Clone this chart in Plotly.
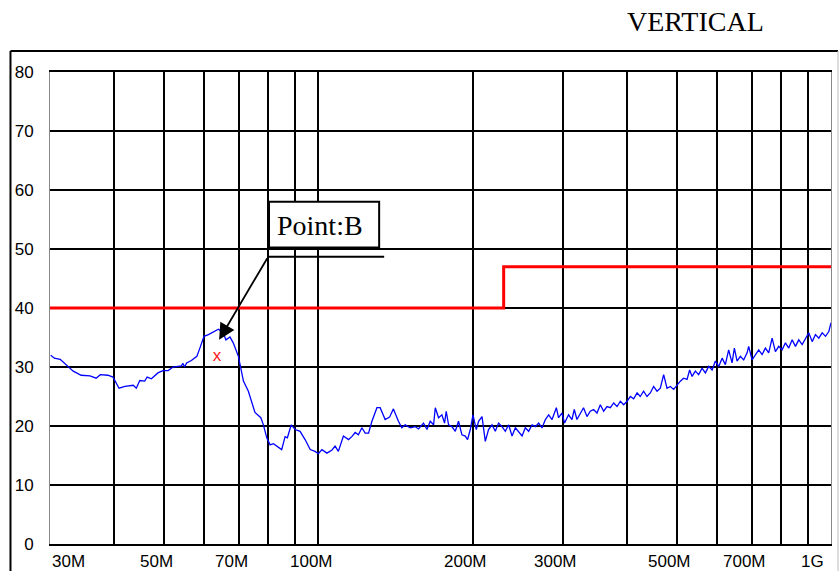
import math
import plotly.graph_objects as go

# ---------------- data ----------------
freq_mhz = [
    30.1, 30.6, 31.4, 32.5, 33.3, 34.5, 35.9, 36.9, 37.6, 38.9, 39.8, 40.9, 42.0, 43.6, 44.2,
    44.9, 45.9, 46.4, 47.3, 48.7, 49.8, 51.0, 52.1, 54.1, 54.5, 54.9, 55.4, 56.6, 58.0, 58.8,
    59.9, 61.1, 62.5, 63.9, 65.3, 66.1, 67.3, 68.3, 69.9, 71.5, 73.1, 75.3, 77.3, 78.2, 79.4,
    80.6, 81.8, 83.1, 84.9, 86.2, 87.1, 88.6, 90.2, 92.2, 94.3, 96.5, 98.6, 100.1, 101.7, 104.0,
    106.3, 107.9, 109.5, 112.0, 114.6, 116.3, 118.1, 119.8, 121.7, 123.5, 125.4, 127.3, 130.2,
    132.1, 135.1, 137.8, 140.2, 143.4, 145.6, 147.8, 151.2, 154.6, 156.9, 160.5, 163.0, 165.4,
    167.9, 169.2, 171.7, 174.3, 176.4, 177.7, 179.6, 182.3, 185.1, 187.8, 190.7, 193.6, 195.6,
    198.0, 200.4, 203.4, 205.5, 208.7, 211.8, 214.9, 218.3, 221.5, 224.8, 228.3, 231.7, 235.2,
    238.8, 242.4, 246.0, 249.8, 253.5, 257.3, 261.3, 265.2, 269.1, 273.3, 277.4, 281.5, 285.8,
    291.4, 294.3, 298.8, 302.3, 307.8, 312.5, 315.8, 319.6, 324.4, 329.2, 334.3, 339.3, 344.4,
    349.7, 355.0, 360.3, 365.8, 371.3, 376.9, 382.7, 388.4, 394.2, 400.3, 406.3, 412.3, 418.7,
    424.7, 431.1, 437.7, 444.3, 450.9, 457.9, 464.7, 471.7, 478.9, 486.1, 493.4, 500.9, 508.4,
    516.0, 524.0, 530.1, 535.9, 543.9, 552.0, 560.5, 568.9, 577.4, 586.3, 595.1, 604.0, 613.3,
    622.3, 631.6, 641.3, 648.0, 655.9, 665.7, 675.7, 686.1, 691.0, 701.6, 712.1, 722.8, 733.9,
    744.9, 756.0, 767.7, 779.1, 790.8, 803.0, 815.0, 827.2, 839.9, 852.5, 865.2, 878.6, 891.7,
    905.0, 919.0, 932.7, 946.7, 961.3, 975.7, 990.2, 1000.0,
]
level_dbuv = [
    32.0, 31.5, 31.3, 30.2, 29.3, 28.6, 28.5, 28.1, 28.7, 28.6, 28.3, 26.4, 26.7, 26.9, 26.4,
    27.7, 27.6, 28.3, 28.0, 29.0, 29.4, 29.4, 30.0, 30.2, 30.6, 30.0, 30.7, 31.1, 31.8, 33.2,
    35.2, 35.5, 36.0, 36.4, 35.8, 34.6, 35.1, 34.1, 31.8, 27.6, 25.9, 22.3, 21.4, 20.2, 18.0,
    16.8, 17.0, 16.6, 16.0, 18.2, 18.0, 20.2, 19.4, 19.1, 17.7, 16.0, 15.7, 15.3, 16.0, 15.4,
    15.9, 16.6, 15.7, 18.3, 17.7, 18.2, 18.9, 18.5, 19.7, 18.8, 18.8, 20.8, 23.1,
    23.1, 21.1, 21.5, 22.9, 20.8, 19.7, 20.2, 19.7, 19.9, 19.5, 20.5, 19.4, 20.8,
    20.2, 23.1, 21.4, 21.9, 20.5, 22.5, 20.2, 19.9, 19.1, 20.8, 18.5, 18.3, 17.7,
    19.4, 21.9, 19.4, 20.8, 21.6, 17.4, 19.4, 20.2, 19.1, 20.5, 19.9, 19.1, 20.2,
    18.3, 19.7, 19.1, 18.3, 19.7, 19.1, 20.2, 19.9, 20.5, 19.7, 21.1, 21.9, 21.1,
    23.1, 21.4, 22.2, 20.5, 21.9, 21.1, 22.8, 21.1, 22.2, 23.1, 21.6, 22.5, 22.8,
    22.2, 23.6, 22.5, 23.3, 23.1, 23.9, 23.3, 24.2, 23.6, 24.2, 25.0, 24.6, 25.6,
    25.0, 25.9, 25.0, 25.6, 26.7, 25.9, 26.4, 28.7, 26.4, 26.7, 26.2, 27.0, 27.6,
    28.1, 27.9, 29.5, 28.4, 29.3, 28.7, 29.8, 29.0, 30.1, 29.5, 31.0, 30.1, 31.5,
    30.4, 32.9, 30.7, 33.2, 31.0, 31.8, 31.2, 32.4, 33.5, 31.2, 32.1, 32.9, 32.1,
    33.2, 32.4, 34.9, 32.6, 33.5, 32.9, 34.1, 33.2, 34.6, 33.5, 34.6, 33.8, 34.9,
    35.8, 34.3, 35.5, 34.9, 35.8, 35.2, 36.0, 37.5,
]

limit_freq_mhz = [30, 230, 230, 1000]
limit_dbuv = [40, 40, 47, 47]

marker_freq_mhz = [63.5]
marker_dbuv = [31.8]
marker_text = ["x"]

x_tick_vals = [30, 40, 50, 60, 70, 80, 90, 100, 200, 300, 400, 500, 600, 700, 800, 900, 1000]
x_label_vals = [30, 50, 70, 100, 200, 300, 500, 700, 1000]
x_label_text = ["30M", "50M", "70M", "100M", "200M", "300M", "500M", "700M", "1G"]
y_tick_vals = [0, 10, 20, 30, 40, 50, 60, 70, 80]

title_text = "VERTICAL"
point_label = "Point:B"

# ---------------- style ----------------
LABEL_FONT = dict(family="Liberation Sans Narrow, Arial Narrow, Liberation Sans, Arial", size=17, color="black")
SERIF = dict(family="Liberation Serif, Times New Roman, serif", size=28, color="black")
label_xshift = {"30M": 0, "1G": -5}
label_anchor = {"30M": "left", "1G": "right"}

fig = go.Figure()

fig.add_trace(go.Scatter(
    x=limit_freq_mhz, y=limit_dbuv, mode="lines",
    line=dict(color="#ff0000", width=3), hoverinfo="skip", showlegend=False,
))
fig.add_trace(go.Scatter(
    x=freq_mhz, y=level_dbuv, mode="lines",
    line=dict(color="#0000ff", width=1.3), showlegend=False,
))
fig.add_trace(go.Scatter(
    x=marker_freq_mhz, y=marker_dbuv, mode="text", text=marker_text,
    textfont=dict(family="Liberation Sans, Arial", size=17, color="#ff2020"),
    textposition="middle center", showlegend=False,
))

annotations = []
for val, txt in zip(x_label_vals, x_label_text):
    annotations.append(dict(
        x=math.log10(val), xref="x", y=0, yref="paper", yanchor="middle",
        xanchor=label_anchor.get(txt, "center"), xshift=label_xshift.get(txt, -7),
        yshift=-17, text=txt, showarrow=False, font=LABEL_FONT,
    ))

# title
annotations.append(dict(
    x=(695 - 50) / 781, xref="paper", y=1.106, yref="paper", xanchor="center",
    yanchor="middle", text=title_text, showarrow=False, font=SERIF,
))

# Point:B label with arrow
tip_f, tip_y = 64.1, 34.6
tail_f, tail_y = 79.9, 48.7
annotations.append(dict(
    x=math.log10(tip_f), y=tip_y, xref="x", yref="y",
    ax=math.log10(tail_f), ay=tail_y, axref="x", ayref="y",
    showarrow=True, arrowhead=2, arrowsize=1.8, arrowwidth=1.8, arrowcolor="black", text="",
))
annotations.append(dict(
    x=math.log10(100.7), y=53.9, xref="x", yref="y", xanchor="center", yanchor="middle",
    text=point_label, showarrow=False, font=SERIF,
))

shapes = [
    # callout box
    dict(type="rect", xref="x", yref="y", x0=80.2, x1=131.5, y0=50.25, y1=58.0,
         line=dict(color="black", width=2), fillcolor="white", layer="above"),
    # leader line
    dict(type="line", xref="x", yref="y", x0=tail_f, x1=134.5, y0=tail_y, y1=tail_y,
         line=dict(color="black", width=2), layer="above"),
    # outer frame
    dict(type="line", xref="paper", yref="paper", x0=-0.0506, x1=1.009, y0=1.0444, y1=1.0444,
         line=dict(color="black", width=2)),
    dict(type="line", xref="paper", yref="paper", x0=-0.0506, x1=-0.0506, y0=1.0444, y1=-0.08,
         line=dict(color="black", width=2)),
    dict(type="line", xref="paper", yref="paper", x0=1.009, x1=1.009, y0=1.0444, y1=-0.08,
         line=dict(color="#bbbbbb", width=1)),
]

fig.update_layout(
    width=839, height=571,
    margin=dict(l=50, r=8, t=72, b=27),
    paper_bgcolor="white", plot_bgcolor="white",
    showlegend=False,
    annotations=annotations,
    shapes=shapes,
    xaxis=dict(
        type="log", range=[math.log10(30), math.log10(1000)],
        tickvals=x_tick_vals, showticklabels=False, ticks="",
        showgrid=True, gridcolor="black", gridwidth=2,
        showline=True, linecolor="black", linewidth=2, mirror=True,
        zeroline=False,
    ),
    yaxis=dict(
        range=[0, 80], tickvals=y_tick_vals, ticks="",
        showgrid=True, gridcolor="black", gridwidth=1.8,
        showline=True, linecolor="#888888", linewidth=1, mirror=True,
        zeroline=False, tickfont=LABEL_FONT, ticklabelstandoff=12,
    ),
)

fig.write_html(
    "out.html",
    config={"displayModeBar": False},
    post_script="document.body.style.margin='0';document.body.style.padding='0';document.body.style.overflow='hidden';",
)
